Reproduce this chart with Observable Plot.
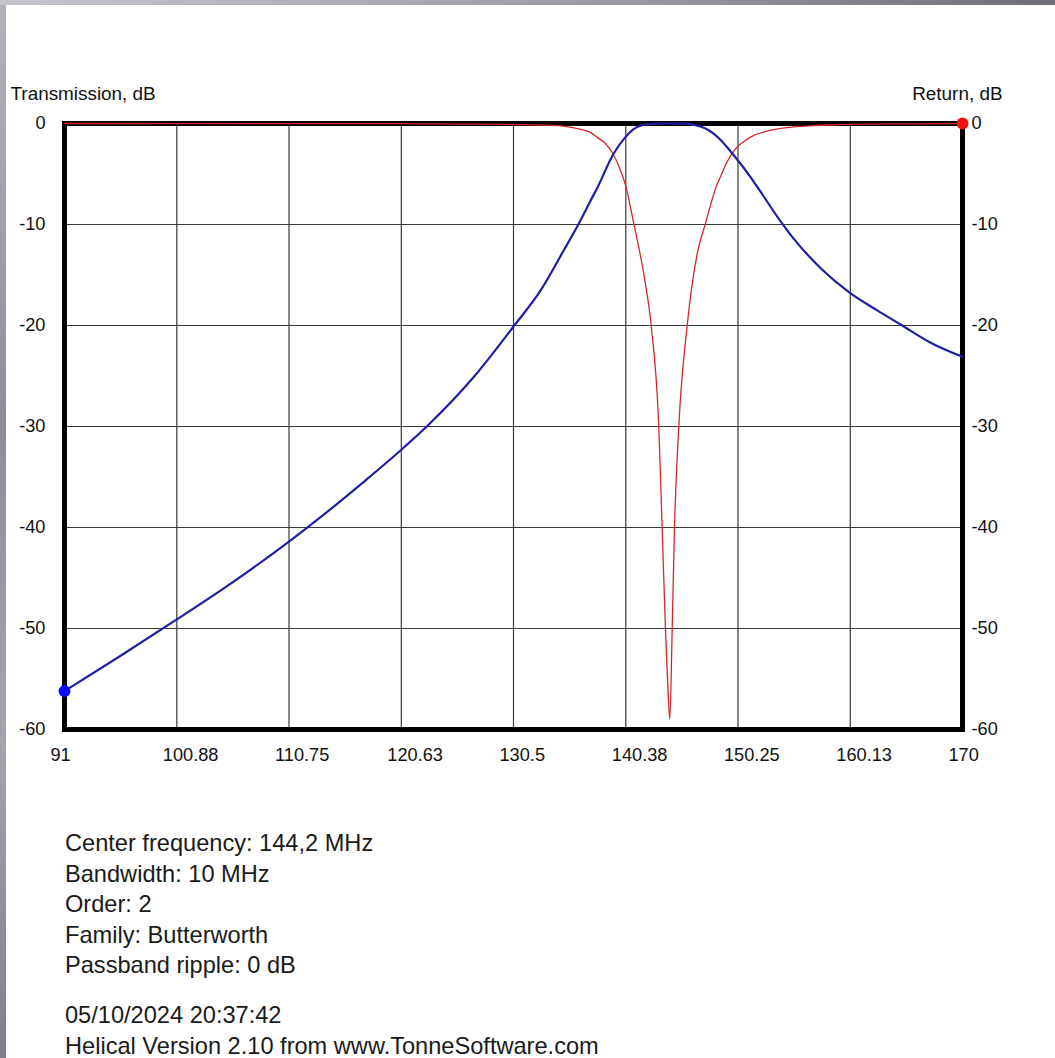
<!DOCTYPE html>
<html>
<head>
<meta charset="utf-8">
<script src="https://cdn.jsdelivr.net/npm/d3@7"></script>
<script src="https://cdn.jsdelivr.net/npm/@observablehq/plot@0.6"></script>
<style>
  html, body { margin: 0; padding: 0; background: #fff; }
  #page { position: relative; width: 1055px; height: 1058px; overflow: hidden; background: #fff;
          font-family: "Liberation Sans", Arial, sans-serif; }
  #stripL { position: absolute; left: 0; top: 0; width: 6px; height: 1058px; z-index: 5;
            background: linear-gradient(to bottom, #b4b3ba, #8e8c96 40%, #a4a3aa 70%, #7f7d86); }
  #stripT { position: absolute; left: 0; top: 0; width: 1055px; height: 5px; z-index: 5;
            background: linear-gradient(to right, #c6c5cb, #9a99a1 60%, #6f6e76); }
  #chart { position: absolute; left: 0; top: 0; }
  #info { position: absolute; left: 65px; top: 828px; font-size: 23.6px; line-height: 30.6px; color: #1a1a1a; }
  #info .gap { height: 19.5px; }
</style>
</head>
<body>
<div id="page">
  <div id="stripL"></div>
  <div id="stripT"></div>
  <div id="chart"></div>
  <div id="info"></div>
</div>
<script>
// X axis ticks (MHz) and Y axis ticks (dB)
const xTicks = [91, 100.88, 110.75, 120.63, 130.5, 140.38, 150.25, 160.13, 170];
const yTicks = [0, -10, -20, -30, -40, -50, -60];

// Transmission (blue)
const transFreq = [91, 95.8, 100.88, 105.3, 110.75, 113.5, 117.3, 120.63, 123.05, 127.0, 130.5, 132.9, 134.9, 136.25, 137.3, 137.9, 139.3, 140.38, 141.0, 141.9, 143.0, 144.2, 145.5, 146.4, 147.3, 148.1, 148.7, 149.7, 151.35, 152.2, 154.0, 155.0, 157.5, 160.13, 162.5, 164.55, 167.2, 170];
const transDb   = [-56.2, -52.8, -49.1, -45.8, -41.4, -39.0, -35.5, -32.3, -29.8, -25.1, -20.1, -16.5, -12.6, -9.9, -7.6, -6.3, -3.0, -1.3, -0.6, -0.15, -0.02, 0, -0.02, -0.15, -0.45, -1.0, -1.6, -2.9, -5.3, -6.7, -9.7, -11.2, -14.3, -16.8, -18.5, -19.9, -21.7, -23.1];

// Return loss (red)
const retFreq = [91, 120, 130, 133, 135.2, 136.5, 137.3, 137.9, 138.6, 139.2, 139.8, 140.38, 141.08, 141.96, 142.61, 143.28, 143.58, 143.87, 144.05, 144.25, 144.46, 144.66, 145.04, 145.78, 146.66, 147.39, 148.42, 148.7, 149.2, 149.7, 150.3, 151.0, 151.6, 153.0, 154.6, 157.0, 159.0, 165.0, 170];
const retDb   = [0, -0.02, -0.08, -0.15, -0.3, -0.6, -0.9, -1.4, -2.0, -2.9, -4.3, -6.2, -9.9, -14.9, -20.0, -30.0, -40.1, -50.1, -55.0, -59.0, -50.1, -40.1, -30.0, -20.0, -12.9, -9.9, -6.0, -5.3, -4.0, -3.0, -2.2, -1.6, -1.2, -0.7, -0.4, -0.2, -0.1, -0.03, 0];

const infoLines = ["Center frequency: 144,2 MHz", "Bandwidth: 10 MHz", "Order: 2", "Family: Butterworth", "Passband ripple: 0 dB"];
const footerLines = ["05/10/2024 20:37:42", "Helical Version 2.10 from www.TonneSoftware.com"];

const trans = transFreq.map((f, i) => ({f, db: transDb[i]}));
const ret = retFreq.map((f, i) => ({f, db: retDb[i]}));

const chart = Plot.plot({
  width: 1055,
  height: 800,
  marginLeft: 64,
  marginRight: 93,
  marginTop: 123,
  marginBottom: 71,
  style: {fontFamily: '"Liberation Sans", Arial, sans-serif', fontSize: "18.2px", color: "#111", background: "transparent", overflow: "visible"},
  x: {domain: [91, 170]},
  y: {domain: [-60, 0]},
  marks: [
    Plot.gridX(xTicks, {stroke: "#3a3a3a", strokeOpacity: 1, strokeWidth: 1.2}),
    Plot.gridY(yTicks, {stroke: "#3a3a3a", strokeOpacity: 1, strokeWidth: 1.2}),
    Plot.frame({stroke: "#000", strokeWidth: 5}),
    Plot.axisX({ticks: xTicks, tickFormat: d => `${d}`, tickSize: 0, tickPadding: 19, textAnchor: "start", dx: -14, label: null}),
    Plot.axisY({ticks: yTicks, tickFormat: d => `${d}`, tickSize: 0, tickPadding: 19, label: null}),
    Plot.axisY({ticks: yTicks, tickFormat: d => `${d}`, anchor: "right", tickSize: 0, tickPadding: 9, label: null}),
    Plot.line(ret, {x: "f", y: "db", stroke: "#d42828", strokeWidth: 1.3, curve: "monotone-x"}),
    Plot.line(trans, {x: "f", y: "db", stroke: "#1f1fa6", strokeWidth: 2.2, curve: "monotone-x"}),
    Plot.dot([trans[0]], {x: "f", y: "db", r: 6, fill: "#0a0aff"}),
    Plot.dot([ret[ret.length - 1]], {x: "f", y: "db", r: 6, fill: "#f01010"}),
    Plot.text(["Transmission, dB"], {text: d => d, frameAnchor: "top-left", dx: -54, dy: -30, textAnchor: "start", lineAnchor: "middle", fontSize: 18.9}),
    Plot.text(["Return, dB"], {text: d => d, frameAnchor: "top-right", dx: 40, dy: -30, textAnchor: "end", lineAnchor: "middle", fontSize: 18.9})
  ]
});
document.getElementById("chart").appendChild(chart);

const info = d3.select("#info");
infoLines.forEach(t => info.append("div").text(t));
info.append("div").attr("class", "gap");
footerLines.forEach(t => info.append("div").text(t));
</script>
</body>
</html>
